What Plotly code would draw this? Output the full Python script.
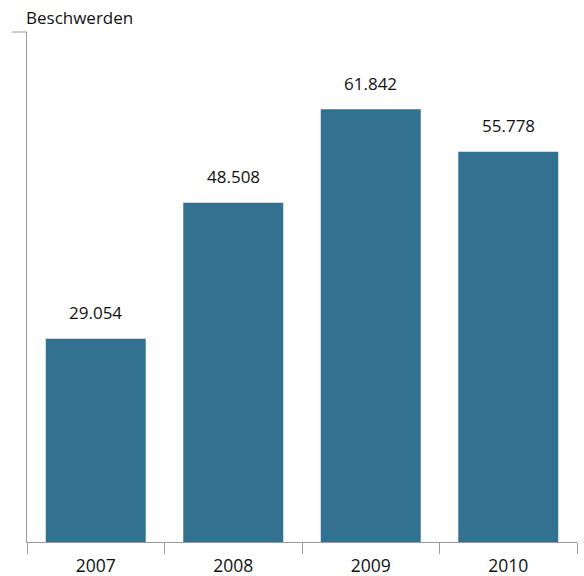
import plotly.graph_objects as go

years = ["2007", "2008", "2009", "2010"]
values = [29054, 48508, 61842, 55778]
labels = ["29.054", "48.508", "61.842", "55.778"]
y_title = "Beschwerden"

FONT = "Open Sans"
BAR = "#327290"
AX = "#9a9a9a"

fig = go.Figure()
fig.add_trace(go.Bar(x=years, y=values, marker_color=BAR, marker_line_width=0,
                     hoverinfo="skip"))

for i, (v, lab) in enumerate(zip(values, labels)):
    fig.add_annotation(x=i, y=v, text=lab, showarrow=False, yanchor="middle",
                       yshift=26, font=dict(family=FONT, size=17, color="#111"))

fig.add_annotation(xref="paper", yref="paper", x=0, y=1, text=y_title,
                   showarrow=False, xanchor="left", yanchor="middle", yshift=15, xshift=-3,
                   font=dict(family=FONT, size=17, color="#111"))

# top tick on y axis
fig.add_shape(type="line", xref="paper", yref="paper", x0=-15/550, x1=0, y0=1, y1=1,
              line=dict(color=AX, width=1))

fig.update_layout(
    width=584, height=576,
    margin=dict(l=27, r=7, t=32, b=34, autoexpand=False),
    paper_bgcolor="white", plot_bgcolor="white",
    bargap=0.273, showlegend=False,
    xaxis=dict(type="category", range=[-0.5, 3.5], showline=True, linecolor=AX, linewidth=1,
               ticks="outside", tickson="boundaries", ticklen=11, tickcolor=AX,
               ticklabelstandoff=8, automargin=False,
               tickfont=dict(family=FONT, size=17.5, color="#111"), showgrid=False,
               fixedrange=True),
    yaxis=dict(range=[0, 72900], showline=True, linecolor=AX, linewidth=1,
               showticklabels=False, ticks="", showgrid=False, zeroline=False,
               automargin=False, fixedrange=True),
)

fig.write_html("out.html")
